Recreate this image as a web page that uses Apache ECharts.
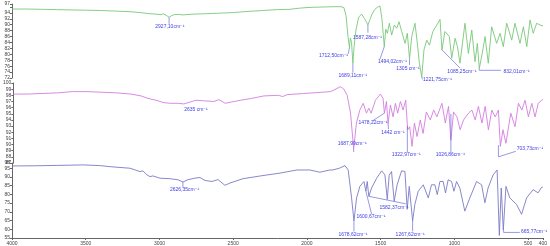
<!DOCTYPE html>
<html><head><meta charset="utf-8">
<script src="https://cdn.jsdelivr.net/npm/echarts@6/dist/echarts.min.js"></script>
<style>html,body{margin:0;padding:0;background:#fff}#c{width:550px;height:246px}</style>
</head><body><div id="c"></div>
<script>
// wavenumber ticks (cm^-1)
const xTicks = [4000,3500,3000,2500,2000,1500,1000,500,400];

// spectrum 1 (top, green): [wavenumber, %T]
const spectrumTop = [[4000,95.3],[3900,95.3],[3800,95.2],[3700,95.1],[3600,95.0],[3500,94.9],[3400,94.8],[3300,94.6],[3200,94.4],[3130,94.1],[3080,93.8],[3030,93.6],[2990,93.4],[2975,93.7],[2955,93.2],[2935,92.5],[2920,93.0],[2900,93.4],[2870,93.5],[2840,93.3],[2800,93.5],[2760,93.6],[2700,93.7],[2650,93.8],[2600,93.9],[2550,94.0],[2500,94.1],[2450,94.3],[2400,94.5],[2300,94.8],[2200,95.1],[2115,95.2],[2050,95.6],[2000,95.8],[1950,95.9],[1880,96.0],[1810,96.1],[1770,96.1],[1750,95.8],[1735,93.0],[1722,86.0],[1712,82.3],[1706,85.5],[1698,84.0],[1689,77.0],[1680,83.0],[1668,88.2],[1650,92.5],[1630,93.6],[1612,92.2],[1598,91.0],[1587,89.9],[1575,91.5],[1560,93.5],[1540,95.2],[1520,96.0],[1505,96.3],[1492,92.0],[1476,82.6],[1466,88.5],[1455,87.1],[1442,90.5],[1426,86.5],[1408,89.9],[1392,88.8],[1376,91.0],[1358,87.7],[1335,83.7],[1320,87.1],[1305,78.5],[1290,86.0],[1268,90.5],[1252,83.7],[1238,77.0],[1222,72.3],[1207,81.5],[1188,84.8],[1170,83.1],[1147,87.7],[1120,89.9],[1098,91.8],[1085,81.5],[1065,87.7],[1035,86.0],[1019,78.7],[996,85.4],[980,82.6],[963,77.0],[929,90.5],[906,80.3],[883,88.2],[861,77.5],[845,83.7],[832,75.2],[812,80.3],[793,86.0],[771,77.0],[748,89.3],[714,83.7],[691,87.1],[669,82.6],[646,90.5],[612,84.8],[590,90.5],[556,83.7],[533,89.3],[510,82.6],[488,91.6],[466,87.1],[443,90.5],[420,89.9],[400,89.6]];

// spectrum 2 (middle, magenta)
const spectrumMid = [[4000,98.2],[3900,98.2],[3800,98.3],[3700,98.4],[3600,98.6],[3500,98.6],[3400,98.5],[3300,98.4],[3200,98.2],[3132,97.9],[3085,97.5],[3030,97.2],[2976,96.8],[2930,96.7],[2880,96.7],[2841,96.6],[2800,96.9],[2759,97.2],[2700,97.1],[2637,97.0],[2603,97.3],[2560,96.7],[2520,96.9],[2454,97.2],[2380,97.5],[2298,97.9],[2200,98.0],[2169,97.8],[2140,98.1],[2027,98.3],[1900,98.5],[1844,98.6],[1776,99.4],[1754,99.0],[1731,98.0],[1708,95.1],[1687,89.3],[1668,93.5],[1645,95.6],[1622,96.7],[1600,95.1],[1584,95.9],[1568,95.1],[1539,97.2],[1505,98.2],[1487,97.5],[1478,95.1],[1464,97.0],[1453,93.4],[1437,96.4],[1419,94.5],[1403,96.7],[1388,95.1],[1369,97.0],[1351,95.6],[1333,97.2],[1320,92.4],[1306,92.9],[1290,89.7],[1274,93.5],[1256,91.3],[1234,94.0],[1215,91.8],[1193,95.3],[1166,94.0],[1143,95.6],[1121,94.5],[1087,96.7],[1064,93.5],[1042,96.2],[1026,90.7],[1008,95.3],[985,94.5],[963,92.4],[940,94.0],[906,95.1],[883,95.6],[861,94.0],[839,96.2],[815,93.5],[793,96.2],[771,92.4],[748,95.6],[725,94.5],[703,95.6],[690,89.7],[672,92.4],[652,90.2],[619,95.1],[590,92.9],[567,96.7],[544,95.6],[522,97.2],[499,94.5],[476,96.7],[454,94.5],[432,96.7],[409,97.2],[400,97.3]];

// spectrum 3 (bottom, blue)
const spectrumBot = [[4000,96.3],[3850,96.4],[3700,96.6],[3519,96.9],[3400,96.5],[3336,95.9],[3200,95.0],[3132,93.1],[3112,93.5],[3085,91.2],[3064,90.2],[3044,90.6],[2997,89.3],[2929,89.0],[2875,88.4],[2841,87.1],[2807,88.4],[2760,89.3],[2725,89.7],[2691,88.0],[2644,87.4],[2603,88.5],[2556,85.2],[2522,86.5],[2434,89.0],[2298,90.8],[2183,92.2],[2068,94.0],[1980,94.0],[1912,92.7],[1844,94.0],[1824,94.0],[1780,95.0],[1742,96.5],[1720,94.0],[1697,78.0],[1681,64.8],[1663,78.0],[1641,84.6],[1613,87.4],[1600,81.8],[1591,87.4],[1580,78.9],[1561,83.7],[1527,89.3],[1493,93.5],[1471,91.2],[1455,77.1],[1442,91.0],[1426,93.1],[1408,76.1],[1388,85.5],[1358,93.5],[1335,93.1],[1320,71.4],[1306,84.6],[1283,64.8],[1268,74.2],[1245,81.8],[1211,85.5],[1177,78.0],[1155,85.5],[1132,85.5],[1116,79.9],[1098,87.4],[1076,87.4],[1060,80.8],[1042,88.4],[1019,87.4],[1003,81.8],[985,87.4],[963,83.7],[929,70.4],[895,78.0],[849,87.4],[815,85.5],[793,75.2],[771,83.7],[737,91.2],[710,94.0],[695,56.5],[682,83.7],[668,59.5],[650,84.6],[624,78.0],[578,74.2],[544,68.6],[510,78.0],[466,82.7],[432,80.9],[409,84.0],[400,84.2]];

// peak annotations: label, leader polyline (data coords), text anchor (data coords)
const peaksTop = [
  ['2927,10cm⁻¹', [[2935,92.5],[2935,90.3]], [2930,89.2], 'center'],
  ['1712,50cm⁻¹', [[1712,82.3],[1720,80.2]], [1722,79.6], 'right'],
  ['1689,11cm⁻¹', [[1689,77.0],[1689,73.8]], [1689,72.7], 'center'],
  ['1587,28cm⁻¹', [[1587,89.9],[1587,87.3]], [1590,85.8], 'center'],
  ['1494,02cm⁻¹', [[1476,82.6],[1505,78.4]], [1519,77.4], 'left'],
  ['1305 cm⁻¹', [[1305,78.5],[1305,76.4]], [1315,75.3], 'center'],
  ['1221,75cm⁻¹', [[1222,72.3],[1216,71.5]], [1214,71.3], 'left'],
  ['1085,25cm⁻¹', [[1085,81.5],[963,75.4]], [950,74.1], 'center'],
  ['832,01cm⁻¹', [[832,75.2],[832,74.6],[685,74.6]], [668,74.3], 'left']
];
const peaksMid = [
  ['2635 cm⁻¹', [], [2759,95.7], 'center'],
  ['1687,99cm⁻¹', [[1687,89.3],[1687,88.8]], [1697,90.2], 'center'],
  ['1478,22cm⁻¹', [[1478,95.1],[1561,93.8]], [1556,93.5], 'center'],
  ['1442 cm⁻¹', [[1453,93.4],[1450,92.5]], [1420,92.0], 'center'],
  ['1322,97cm⁻¹', [[1322,93.0],[1322,88.8]], [1330,88.3], 'center'],
  ['1026,86cm⁻¹', [[1026,95.0],[1026,88.8]], [1030,88.3], 'center'],
  ['703,73cm⁻¹', [[703,89.9],[703,88.0],[585,88.9]], [578,89.4], 'left']
];
const peaksBot = [
  ['2626,35cm⁻¹', [[2841,87.1],[2841,83.8]], [2830,82.6], 'center'],
  ['1678,62cm⁻¹', [[1681,64.8],[1681,58.8]], [1688,57.2], 'center'],
  ['1600,67cm⁻¹', [[1600,81.8],[1561,68.6]], [1566,67.0], 'center'],
  ['1582,37cm⁻¹', [[1580,78.9],[1330,74.6]], [1410,72.6], 'center'],
  ['1267,62cm⁻¹', [[1283,64.8],[1283,58.8]], [1300,57.2], 'center'],
  ['665,77cm⁻¹', [[666,59.5],[666,58.2],[556,58.2]], [548,58.6], 'left']
];

const FONT = 'Liberation Sans, Arial, DejaVu Sans, sans-serif';
const chart = echarts.init(document.getElementById('c'), null, {renderer:'canvas'});

function yAxis(gi, min, max, interval, hide) {
  return {
    type:'value', gridIndex:gi, min:min, max:max, interval:interval,
    axisLine:{show:true, lineStyle:{color:'#666', width:1}},
    axisTick:{show:true, length:2, lineStyle:{color:'#666'}},
    splitLine:{show:false},
    axisLabel:{fontSize:5, color:'#444', margin:2, fontFamily:FONT,
      formatter: v => (hide.indexOf(v) >= 0 ? '' : String(v))}
  };
}
function xAxis(gi, show) {
  return {
    type:'value', gridIndex:gi, min:400, max:4000, inverse:true, show:show,
    axisLine:{show:true, onZero:false, lineStyle:{color:'#666', width:1}},
    axisTick:{show:true, length:2, customValues:xTicks, lineStyle:{color:'#666'}},
    splitLine:{show:false},
    axisLabel:{fontSize:5, color:'#444', margin:3, fontFamily:FONT, customValues:xTicks,
      formatter: v => String(v)}
  };
}
function annot(peaks, gi) {
  return {
    type:'custom', xAxisIndex:gi, yAxisIndex:gi, silent:true, clip:false, z:5,
    data: peaks.map((p,i) => [p[2][0], p[2][1], i]),
    renderItem: (params, api) => {
      const p = peaks[api.value(2)];
      const pts = p[1].map(c => api.coord(c));
      const t = api.coord(p[2]);
      const children = [];
      if (pts.length > 1) children.push({type:'polyline', shape:{points:pts}, style:{stroke:'#6c6cdc', lineWidth:0.7, fill:null}});
      children.push({type:'text', x:t[0], y:t[1], style:{text:p[0], fill:'#3d3de6', font:'5px ' + FONT, align:p[3], verticalAlign:'middle'}});
      return {type:'group', children:children};
    }
  };
}
function line(data, gi, color) {
  return {type:'line', xAxisIndex:gi, yAxisIndex:gi, data:data, showSymbol:false, symbol:'none',
    lineStyle:{color:color, width:0.9}, itemStyle:{color:color}, animation:false, z:3};
}

chart.setOption({
  animation:false,
  backgroundColor:'#fff',
  grid:[
    {left:12, right:7, top:4, height:74},
    {left:12, right:7, top:83, height:80},
    {left:12, right:7, top:163, height:76}
  ],
  xAxis:[xAxis(0,false), xAxis(1,false), xAxis(2,true)],
  yAxis:[yAxis(0,72,97,2,[96]), yAxis(1,87,100,1,[]), yAxis(2,55,98,5,[])],
  series:[
    line(spectrumTop,0,'#78c878'),
    line(spectrumMid,1,'#d47ee0'),
    line(spectrumBot,2,'#7a7ac6'),
    annot(peaksTop,0), annot(peaksMid,1), annot(peaksBot,2)
  ]
});
</script></body></html>
